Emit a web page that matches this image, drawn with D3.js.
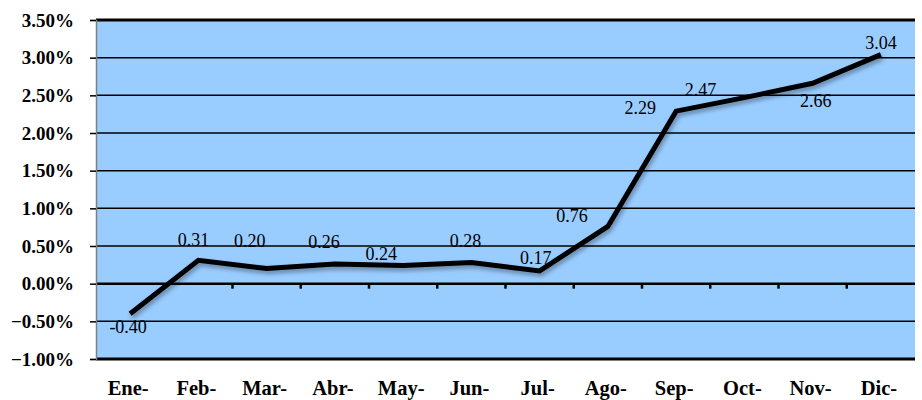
<!DOCTYPE html>
<html><head><meta charset="utf-8">
<script src="https://cdn.jsdelivr.net/npm/d3@7"></script>
<style>body{margin:0;background:#fff}svg{display:block}</style>
</head><body>
<script>
const months = ["Ene-","Feb-","Mar-","Abr-","May-","Jun-","Jul-","Ago-","Sep-","Oct-","Nov-","Dic-"];
const values = [-0.40,0.31,0.20,0.26,0.24,0.28,0.17,0.76,2.29,2.47,2.66,3.04];
const valueLabels = ["-0.40","0.31","0.20","0.26","0.24","0.28","0.17","0.76","2.29","2.47","2.66","3.04"];
const yTicks = [-1.0,-0.5,0,0.5,1.0,1.5,2.0,2.5,3.0,3.5];
// label placement relative to point (style only)
const labelDx = [-2,-5,-17,-11,-22,-6,-4,-36,-36,-44,3,0];
const labelDy = [13,-20,-28,-22,-12,-22,-13,-10,-3,-8,18,-12];

const W=922,H=400, m={l:96,r:7,t:20,b:41};
const svg=d3.select("body").append("svg").attr("width",W).attr("height",H);
const defs=svg.append("defs");
const f=defs.append("filter").attr("id","sh").attr("x","-10%").attr("y","-10%").attr("width","120%").attr("height","130%");
f.append("feDropShadow").attr("dx",1.5).attr("dy",3).attr("stdDeviation",2).attr("flood-color","#000").attr("flood-opacity",0.35);

const x=d3.scaleBand().domain(months).range([m.l,W-m.r]);
const y=d3.scaleLinear().domain([-1,3.5]).range([H-m.b,m.t]);

svg.append("rect").attr("x",m.l).attr("y",m.t).attr("width",W-m.r-m.l).attr("height",H-m.b-m.t).attr("fill","#99CCFF");

// gridlines
svg.append("g").selectAll("line").data(yTicks).join("line")
  .attr("x1",m.l).attr("x2",W-m.r).attr("y1",d=>y(d)).attr("y2",d=>y(d))
  .attr("stroke","#000").attr("stroke-width",d=>(d===3.5||d===-1)?3:(d===0?2.5:1.5));

// y axis
const ya=svg.append("g").attr("transform",`translate(${m.l},0)`)
  .call(d3.axisLeft(y).tickValues(yTicks).tickSize(6).tickPadding(16).tickFormat(d=>d3.format(".2f")(d)+"%"));
ya.select(".domain").attr("stroke","#808080").attr("stroke-width",1.5);
ya.selectAll(".tick line").attr("stroke","#000").attr("stroke-width",1.5);
ya.selectAll("text").attr("font-family","'Liberation Serif','Times New Roman',serif").attr("font-weight","bold").attr("font-size","19px").attr("fill","#000");

// x axis along zero line, ticks at band boundaries
const xa=svg.append("g").attr("transform",`translate(0,${y(0)})`);
xa.selectAll("line").data(months.slice(1)).join("line")
  .attr("x1",d=>x(d)).attr("x2",d=>x(d)).attr("y1",0).attr("y2",5)
  .attr("stroke","#000").attr("stroke-width",2.5);
svg.append("g").selectAll("text").data(months).join("text")
  .attr("x",d=>x(d)+x.bandwidth()/2-2).attr("y",H-5).attr("text-anchor","middle")
  .attr("font-family","'Liberation Serif','Times New Roman',serif").attr("font-weight","bold").attr("font-size","20.5px").text(d=>d);

// line
const line=d3.line().x((d,i)=>x(months[i])+x.bandwidth()/2).y(d=>y(d));
svg.append("path").datum(values).attr("d",line).attr("fill","none").attr("stroke","#000")
  .attr("stroke-width",5).attr("stroke-linejoin","miter").attr("filter","url(#sh)");

// labels
svg.append("g").selectAll("text").data(values).join("text")
  .attr("x",(d,i)=>x(months[i])+x.bandwidth()/2+labelDx[i])
  .attr("y",(d,i)=>y(d)+labelDy[i]+6).attr("text-anchor","middle")
  .attr("font-family","'Liberation Serif','Times New Roman',serif").attr("font-size","18px").attr("fill","#000")
  .text((d,i)=>valueLabels[i]);
</script>
</body></html>
